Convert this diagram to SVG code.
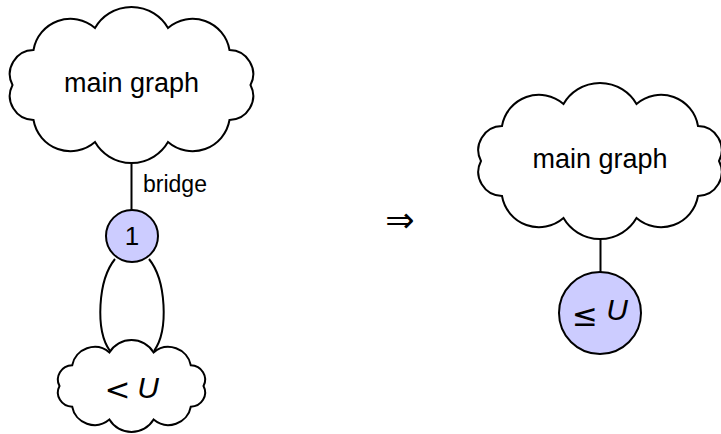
<svg xmlns="http://www.w3.org/2000/svg" width="721" height="434" viewBox="0 0 721 434">
  <style>
    .shape { fill: #ffffff; stroke: #000000; stroke-width: 2; }
    .vertex { fill: #ccccff; stroke: #000000; stroke-width: 2; }
    .edge { fill: none; stroke: #000000; stroke-width: 2; }
    .lbl { font-family: "Liberation Sans", Arial, sans-serif; fill: #000000; }
    .sym { font-family: "DejaVu Sans", sans-serif; fill: #000000; }
  </style>
  <defs>
    <!-- cloud outline centred on the origin, 10 puffs -->
    <path id="cloud" d="M-36.5,-57 A42.2,42.2 0 0 1 36.5,-57 A37.5,37.5 0 0 1 98,-35 A24,24 0 0 1 119,0 A24,24 0 0 1 98,35 A37.5,37.5 0 0 1 36.5,57 A42.2,42.2 0 0 1 -36.5,57 A37.5,37.5 0 0 1 -98,35 A24,24 0 0 1 -119,0 A24,24 0 0 1 -98,-35 A37.5,37.5 0 0 1 -36.5,-57 Z"/>
  </defs>

  <!-- connectors -->
  <g id="edges">
    <line class="edge" x1="131.5" y1="163" x2="131.5" y2="210"/>
    <path class="edge" d="M115,259 C98,280 95,330 110,351"/>
    <path class="edge" d="M149,259 C166,280 169,330 154,351"/>
    <line class="edge" x1="600.5" y1="239" x2="600.5" y2="272"/>
  </g>

  <!-- left: main graph -->
  <g id="main-left">
    <use href="#cloud" class="shape" transform="translate(131.5,85)"/>
    <text class="lbl" x="131.5" y="92" font-size="27" text-anchor="middle">main graph</text>
  </g>

  <text id="bridge-label" class="lbl" x="143" y="192" font-size="23">bridge</text>

  <!-- vertex 1 -->
  <g id="vertex-1">
    <circle class="vertex" cx="132" cy="236" r="26"/>
    <text class="lbl" x="132" y="245" font-size="26" text-anchor="middle">1</text>
  </g>

  <!-- small component -->
  <g id="small-cloud">
    <path class="shape" d="M109.4,352.4 A25.5,24.9 0 0 1 153.6,352.4 A22.7,22.1 0 0 1 190.8,365.3 A14.5,14.2 0 0 1 203.5,386 A14.5,14.2 0 0 1 190.8,406.7 A22.7,22.1 0 0 1 153.6,419.6 A25.5,24.9 0 0 1 109.4,419.6 A22.7,22.1 0 0 1 72.2,406.7 A14.5,14.2 0 0 1 59.5,386 A14.5,14.2 0 0 1 72.2,365.3 A22.7,22.1 0 0 1 109.4,352.4 Z"/>
    <text class="sym" x="117.5" y="400" font-size="31" text-anchor="middle">&lt;</text>
    <text class="lbl" x="148" y="398" font-size="30" font-style="italic" text-anchor="middle">U</text>
  </g>

  <!-- implication -->
  <text id="implies" class="sym" x="400" y="231.5" font-size="35" text-anchor="middle">⇒</text>

  <!-- right: main graph -->
  <g id="main-right">
    <use href="#cloud" class="shape" transform="translate(600,161)"/>
    <text class="lbl" x="600" y="168" font-size="27" text-anchor="middle">main graph</text>
  </g>

  <!-- merged vertex -->
  <g id="vertex-merged">
    <circle class="vertex" cx="600" cy="313" r="41"/>
    <text class="sym" x="585" y="326" font-size="31" text-anchor="middle">≤</text>
    <text class="lbl" x="617" y="320" font-size="30" font-style="italic" text-anchor="middle">U</text>
  </g>
</svg>
